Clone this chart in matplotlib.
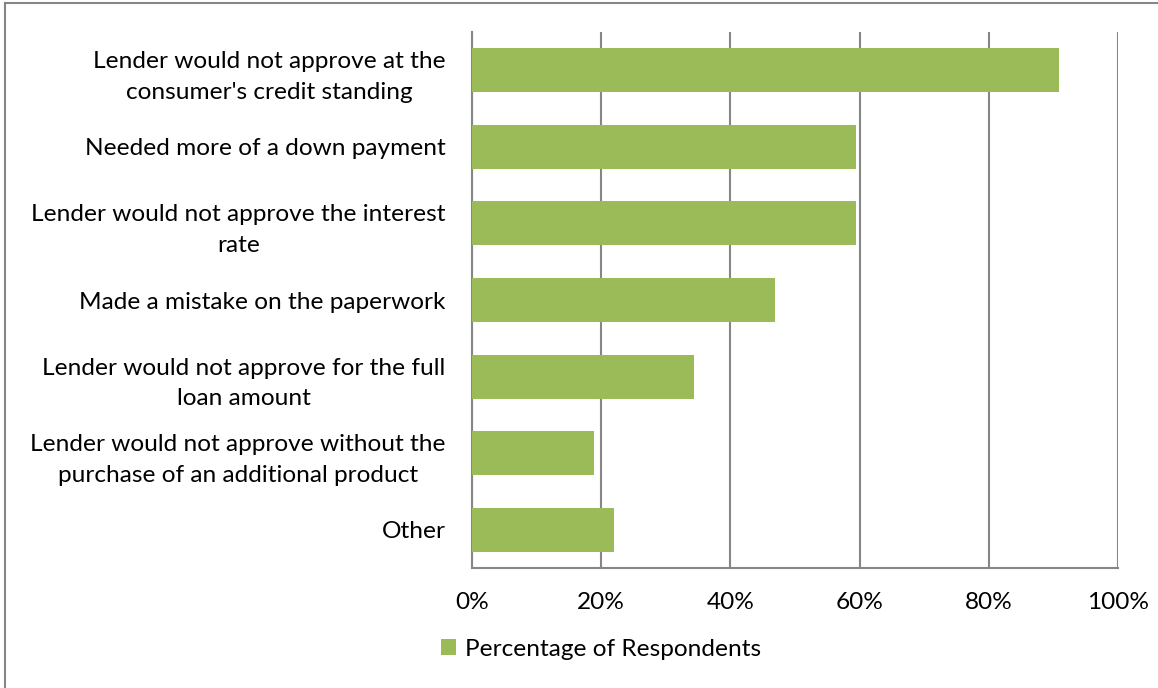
import matplotlib
matplotlib.use("Agg")
import matplotlib.pyplot as plt
from matplotlib.lines import Line2D
from matplotlib.ticker import PercentFormatter

categories = [
    "Lender would not approve at the\nconsumer's credit standing",
    "Needed more of a down payment",
    "Lender would not approve the interest\nrate",
    "Made a mistake on the paperwork",
    "Lender would not approve for the full\nloan amount",
    "Lender would not approve without the\npurchase of an additional product",
    "Other",
]
values = [90.8, 59.5, 59.5, 46.9, 34.4, 18.9, 22.0]
series_name = "Percentage of Respondents"
x_ticks = [0, 20, 40, 60, 80, 100]

plt.rcParams["font.family"] = ["Lato", "DejaVu Sans"]
grey = "#868686"
green = "#9BBB59"
fs = 17.6

fig = plt.figure(figsize=(11.58, 6.88), dpi=100)
ax = fig.add_axes([0.4076, 0.1744, 0.5579, 0.7791])

ypos = list(range(len(categories)))
ax.barh(ypos, values, height=0.575, color=green, label=series_name, zorder=3)
ax.set_ylim(len(categories) - 0.5, -0.5)
ax.set_xlim(0, 100)
ax.set_xticks(x_ticks)
ax.xaxis.set_major_formatter(PercentFormatter(decimals=0))
ax.set_yticks(ypos)
ax.set_yticklabels(categories, multialignment="center", linespacing=1.55, fontsize=fs)
ax.tick_params(axis="y", length=0, pad=19)
ax.tick_params(axis="x", length=0, pad=17, labelsize=fs)
ax.xaxis.grid(True, color=grey, linewidth=1.5, zorder=0)

for side in ["top", "right"]:
    ax.spines[side].set_visible(False)
for side in ["left", "bottom"]:
    ax.spines[side].set_color(grey)
    ax.spines[side].set_linewidth(1.5)

fig.legend(
    loc="center",
    bbox_to_anchor=(601 / 1158, 1 - 649 / 688),
    frameon=False,
    fontsize=fs,
    handlelength=0.6,
    handleheight=0.6,
    handletextpad=0.35,
)

# outer frame (only top and left edges visible)
fig.add_artist(Line2D([5 / 1158, 1], [1 - 3 / 688, 1 - 3 / 688], color=grey, linewidth=1.5))
fig.add_artist(Line2D([5 / 1158, 5 / 1158], [0, 1 - 3 / 688], color=grey, linewidth=1.5))

fig.savefig("out.png", dpi=100)
